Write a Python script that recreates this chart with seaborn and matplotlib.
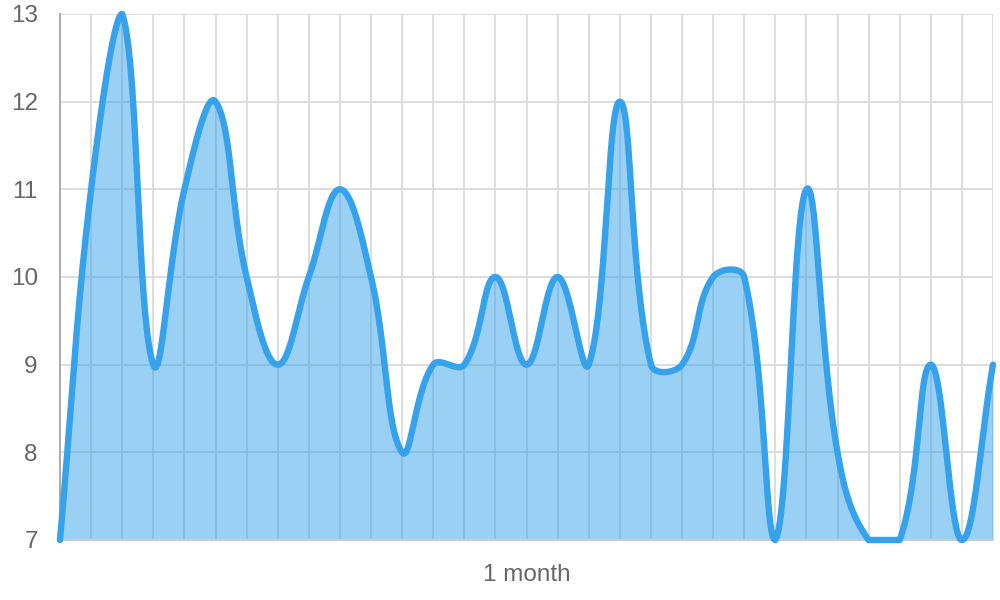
import numpy as np
import matplotlib
matplotlib.use("Agg")
import matplotlib.pyplot as plt
import seaborn as sns

# ==========================================================
# DATA
# ==========================================================

days = list(range(31))
values = [7, 11, 13, 9, 11, 12, 10, 9, 10, 11,
          10, 8, 9, 9, 10, 9, 10, 9, 12, 9,
          9, 10, 10, 7, 11, 8, 7, 7, 9, 7, 9]
y_ticks = [7, 8, 9, 10, 11, 12, 13]
x_labels = [""] * 31
x_labels[15] = "1 month"

LINE = "#36a2eb"
FILL = (54 / 255, 162 / 255, 235 / 255, 0.5)
TEXT = "#666666"
GRID = "#dddddd"

# ==========================================================
# FIGURE
# ==========================================================

sns.set_theme(style="white")
plt.rcParams["font.family"] = ["Liberation Sans", "DejaVu Sans"]

fig = plt.figure(figsize=(10, 6), dpi=100)
ax = fig.add_axes([0.06, 0.1, 0.933, 0.8767])
ax.set_xlim(0, 30)
ax.set_ylim(7, 13)


# bezier curve with tension 0.4, computed in pixel space (chart.js style)
def smooth_curve(xs, ys, tension=0.4, steps=40):
    pts = ax.transData.transform(np.column_stack([xs, ys]))
    n = len(pts)
    bb = ax.bbox
    cp_prev = np.zeros_like(pts)
    cp_next = np.zeros_like(pts)
    for i in range(n):
        cur = pts[i]
        prv = pts[i - 1] if i > 0 else cur
        nxt = pts[i + 1] if i < n - 1 else cur
        d01 = np.hypot(*(cur - prv))
        d12 = np.hypot(*(nxt - cur))
        tot = d01 + d12
        s01 = d01 / tot if tot else 0
        s12 = d12 / tot if tot else 0
        cp_prev[i] = cur - tension * s01 * (nxt - prv)
        cp_next[i] = cur + tension * s12 * (nxt - prv)
    for cp in (cp_prev, cp_next):
        cp[:, 0] = np.clip(cp[:, 0], bb.x0, bb.x1)
        cp[:, 1] = np.clip(cp[:, 1], bb.y0, bb.y1)
    t = np.linspace(0, 1, steps)[:, None]
    out = [pts[:1]]
    for i in range(n - 1):
        p0, p1, p2, p3 = pts[i], cp_next[i], cp_prev[i + 1], pts[i + 1]
        seg = ((1 - t) ** 3) * p0 + 3 * ((1 - t) ** 2) * t * p1 \
            + 3 * (1 - t) * t ** 2 * p2 + t ** 3 * p3
        out.append(seg[1:])
    curve = ax.transData.inverted().transform(np.vstack(out))
    return curve[:, 0], curve[:, 1]


cx, cy = smooth_curve(days, values)

ax.fill_between(cx, cy, 7, color=FILL, linewidth=0, zorder=2)
sns.lineplot(x=cx, y=cy, ax=ax, sort=False, estimator=None,
             color=LINE, linewidth=4.6, zorder=3)
for ln in ax.lines:
    ln.set_clip_on(False)
    ln.set_solid_capstyle("round")
    ln.set_solid_joinstyle("round")

# ==========================================================
# AXES STYLE
# ==========================================================

ax.set_xticks(days)
ax.set_xticklabels(x_labels)
ax.set_yticks(y_ticks)
ax.set_yticklabels([str(v) for v in y_ticks])
ax.set_xlabel("")
ax.set_ylabel("")

ax.grid(True, color=GRID, linewidth=1.4)
ax.set_axisbelow(True)

ax.tick_params(axis="x", length=13, width=1.4, color=GRID, pad=4,
               labelsize=17.5, labelcolor=TEXT)
ax.tick_params(axis="y", length=14, width=1.4, color=GRID, pad=2,
               labelsize=17.5, labelcolor=TEXT)

for side in ["top", "right"]:
    ax.spines[side].set_visible(False)
ax.spines["left"].set_color("#aaaaaa")
ax.spines["left"].set_linewidth(1.4)
ax.spines["bottom"].set_color("#cccccc")
ax.spines["bottom"].set_linewidth(1.4)

plt.savefig("out.png", dpi=100)
